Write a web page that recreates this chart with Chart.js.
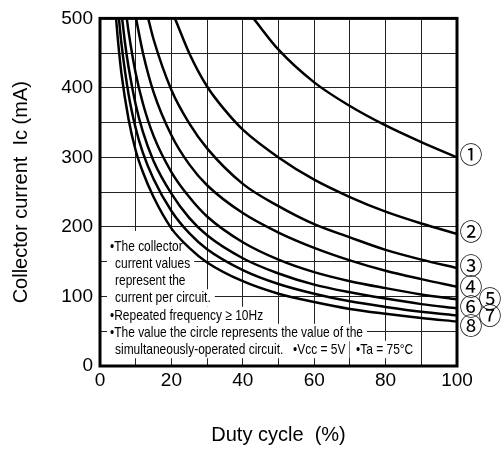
<!DOCTYPE html>
<html>
<head>
<meta charset="utf-8">
<script src="https://cdn.jsdelivr.net/npm/chart.js@4.4.1/dist/chart.umd.min.js"></script>
<style>
  html, body { margin: 0; padding: 0; background: #fff; }
</style>
</head>
<body>
<canvas id="chart" width="501" height="452"></canvas>
<script>
// curve labels, right side
const curveLabels = ['①', '②', '③', '④', '⑤', '⑥', '⑦', '⑧'];

// duty cycle (%) / collector current (mA)
const duty1 = [43, 50, 60, 70, 80, 90, 100];
const ic1 = [500, 455, 408, 374, 346, 322, 300];

const duty2 = [21, 25, 30, 35, 40, 50, 60, 70, 80, 90, 100];
const ic2 = [500, 450, 402, 368, 340, 300, 268, 243, 222, 205, 190];

const duty3 = [13.5, 15, 20, 25, 30, 40, 50, 60, 70, 80, 90, 100];
const ic3 = [500, 470, 397, 349, 313, 262, 230, 204, 185, 167, 153, 141];

const duty4 = [10.1, 12, 15, 20, 25, 30, 40, 50, 60, 70, 80, 90, 100];
const ic4 = [500, 451, 394, 332, 290, 260, 220, 192, 170, 152, 137, 125, 114];

const duty5 = [7.5, 8, 10, 12, 15, 20, 25, 30, 40, 50, 60, 70, 80, 90, 100];
const ic5 = [500, 481, 421, 378, 331, 279, 243, 215, 178, 153, 135, 122, 112, 103, 96];

const duty6 = [6.2, 7, 8, 10, 12, 15, 20, 25, 30, 40, 50, 60, 70, 80, 90, 100];
const ic6 = [500, 465, 430, 376, 337, 295, 248, 213, 188, 155, 133, 117, 106, 97, 89, 83];

const duty7 = [5.3, 6, 8, 10, 12, 15, 20, 25, 30, 40, 50, 60, 70, 80, 90, 100];
const ic7 = [500, 464, 391, 342, 307, 269, 223, 191, 168, 138, 118, 104, 93, 85, 78, 73];

const duty8 = [4.5, 5, 6, 8, 10, 12, 15, 20, 25, 30, 40, 50, 60, 70, 80, 90, 100];
const ic8 = [500, 470, 421, 355, 310, 279, 243, 198, 170, 149, 122, 104, 92, 82, 75, 69, 64];

const dutyTicks = [0, 20, 40, 60, 80, 100];
const currentTicks = [0, 100, 200, 300, 400, 500];

const curves = [
  [duty1, ic1], [duty2, ic2], [duty3, ic3], [duty4, ic4],
  [duty5, ic5], [duty6, ic6], [duty7, ic7], [duty8, ic8]
];

// notes block in the lower left
const noteLines = [
  { text: '•The collector', x: 110, y: 247 },
  { text: 'current values', x: 115, y: 264 },
  { text: 'represent the', x: 115, y: 281 },
  { text: 'current per circuit.', x: 115, y: 298 },
  { text: '•Repeated frequency ≥ 10Hz', x: 110, y: 315.5 },
  { text: '•The value the circle represents the value of the', x: 110, y: 332.5 },
  { text: 'simultaneously-operated circuit.', x: 115, y: 349.5 },
  { text: '•Vcc = 5V', x: 293, y: 349.5 },
  { text: '•Ta = 75°C', x: 356, y: 349.5 }
];
const NOTE_FONT = '15px "Liberation Sans", Arial, sans-serif';

// circled labels: x offset from plot right and y in mA
const labelPos = [
  { dx: 14, v: 300 }, { dx: 14, v: 190 }, { dx: 14, v: 141 }, { dx: 14, v: 111 },
  { dx: 33, v: 93 }, { dx: 14, v: 82 }, { dx: 33, v: 68 }, { dx: 14, v: 54 }
];

const notesPlugin = {
  id: 'notes',
  beforeDatasetsDraw(chart) {
    const ctx = chart.ctx;
    ctx.save();
    ctx.font = NOTE_FONT;
    const sx = 253 / ctx.measureText(noteLines[5].text).width;
    ctx.fillStyle = '#fff';
    noteLines.forEach((l, i) => {
      const w = ctx.measureText(l.text).width * sx;
      const top = i === 0 ? 231 : l.y - 8.7;
      ctx.fillRect(l.x - 3, top, w + 7, l.y + 8.7 - top);
    });
    ctx.fillRect(107, 231, 60, 127);
    ctx.restore();
  },
  afterDatasetsDraw(chart) {
    const ctx = chart.ctx;
    const a = chart.chartArea;
    ctx.save();
    ctx.font = NOTE_FONT;
    const sx = 253 / ctx.measureText(noteLines[5].text).width;
    ctx.fillStyle = '#000';
    ctx.textBaseline = 'middle';
    noteLines.forEach(l => {
      ctx.save();
      ctx.translate(l.x, l.y);
      ctx.scale(sx, 1);
      ctx.fillText(l.text, 0, 0);
      ctx.restore();
    });
    // frame
    ctx.strokeStyle = '#000';
    ctx.lineWidth = 3;
    ctx.strokeRect(a.left, a.top, a.right - a.left, a.bottom - a.top);
    // circled curve numbers
    const yScale = chart.scales.y;
    ctx.font = '23px "Noto Sans CJK JP", "DejaVu Sans", sans-serif';
    ctx.textAlign = 'center';
    curveLabels.forEach((t, i) => {
      ctx.fillText(t, a.right + labelPos[i].dx, yScale.getPixelForValue(labelPos[i].v) - 3);
    });
    ctx.restore();
  }
};

new Chart(document.getElementById('chart'), {
  type: 'line',
  data: {
    datasets: curves.map((c, i) => ({
      label: curveLabels[i],
      data: c[0].map((d, j) => ({ x: d, y: c[1][j] })),
      borderColor: '#000',
      borderWidth: 2.5,
      pointRadius: 0,
      fill: false,
      cubicInterpolationMode: 'monotone'
    }))
  },
  options: {
    responsive: false,
    animation: false,
    layout: { padding: { left: 0, right: 44, top: 11, bottom: 0 } },
    plugins: { legend: { display: false }, tooltip: { enabled: false } },
    scales: {
      x: {
        type: 'linear',
        min: 0,
        max: 100,
        afterFit(s) { s.height = 86; },
        border: { display: false },
        grid: { color: '#222', lineWidth: 1, drawTicks: false },
        ticks: {
          stepSize: 10,
          autoSkip: false,
          maxRotation: 0,
          padding: 3,
          color: '#000',
          font: { family: '"Liberation Sans", Arial, sans-serif', size: 19 },
          callback: v => dutyTicks.includes(v) ? String(v) : ''
        },
        title: {
          display: true,
          text: 'Duty cycle  (%)',
          color: '#000',
          font: { family: '"Liberation Sans", Arial, sans-serif', size: 20 },
          padding: { top: 0, bottom: 5 }
        }
      },
      y: {
        type: 'linear',
        min: 0,
        max: 500,
        afterFit(s) { s.width = 100; },
        border: { display: false },
        grid: { color: '#222', lineWidth: 1, drawTicks: false },
        ticks: {
          stepSize: 50,
          autoSkip: false,
          padding: 7,
          color: '#000',
          font: { family: '"Liberation Sans", Arial, sans-serif', size: 19 },
          callback: v => currentTicks.includes(v) ? String(v) : ''
        },
        title: {
          display: true,
          text: 'Collector current  Ic (mA)',
          color: '#000',
          font: { family: '"Liberation Sans", Arial, sans-serif', size: 20 },
          padding: { top: 9, bottom: 0 }
        }
      }
    }
  },
  plugins: [notesPlugin]
});
</script>
</body>
</html>
